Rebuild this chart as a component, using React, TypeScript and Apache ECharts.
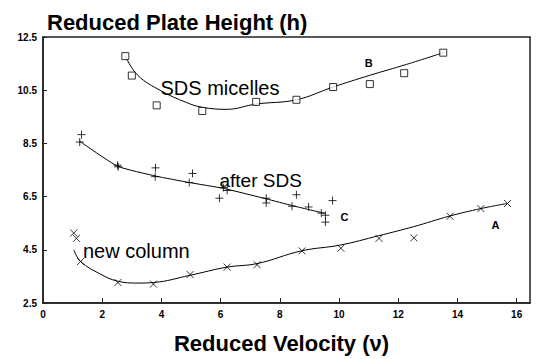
import React, { useEffect, useRef } from "react";
import * as echarts from "echarts";

const xTicks = [0, 2, 4, 6, 8, 10, 12, 14, 16];
const yTicks = [2.5, 4.5, 6.5, 8.5, 10.5, 12.5];

// B: SDS micelles (squares)
const sdsMicellesPts = [
  [2.78, 11.78], [3.0, 11.05], [3.84, 9.93], [5.38, 9.72], [7.2, 10.06],
  [8.56, 10.14], [9.8, 10.62], [11.04, 10.73], [12.2, 11.14], [13.52, 11.91],
];
const sdsMicellesFit = [
  [2.78, 11.78], [3.2, 11.06], [4.0, 10.47], [4.84, 10.04], [5.36, 9.86],
  [6.2, 9.78], [7.2, 9.98], [8.56, 10.14], [9.8, 10.62], [11.04, 11.06],
  [12.28, 11.47], [13.52, 11.91],
];

// C: after SDS (plus)
const afterSdsPts = [
  [1.3, 8.83], [1.24, 8.55], [2.52, 7.68], [2.54, 7.62], [3.8, 7.58],
  [3.79, 7.25], [5.05, 7.37], [4.94, 7.03], [6.09, 6.84], [6.22, 6.73],
  [5.96, 6.44], [7.54, 6.44], [7.54, 6.26], [8.56, 6.57], [8.41, 6.14],
  [8.97, 6.11], [9.78, 6.35], [9.4, 5.88], [9.54, 5.8], [9.54, 5.54],
];
const afterSdsFit = [
  [1.24, 8.58], [2.52, 7.64], [3.81, 7.27], [4.94, 7.03], [6.09, 6.81],
  [7.56, 6.41], [8.42, 6.16], [9.52, 5.87],
];

// A: new column (x)
const newColumnPts = [
  [1.04, 5.13], [1.13, 4.93], [1.27, 4.06], [2.53, 3.27], [3.73, 3.21],
  [4.97, 3.57], [6.22, 3.85], [7.23, 3.94], [8.75, 4.46], [10.06, 4.56],
  [11.35, 4.93], [12.53, 4.95], [13.75, 5.76], [14.79, 6.05], [15.69, 6.24],
];
const newColumnFit = [
  [1.04, 4.5], [1.27, 4.06], [1.95, 3.58], [2.52, 3.32], [3.2, 3.25],
  [3.74, 3.27], [4.96, 3.54], [6.22, 3.85], [7.23, 3.98], [8.73, 4.46],
  [10.05, 4.68], [11.34, 5.03], [12.52, 5.37], [13.74, 5.77], [14.79, 6.05],
  [15.67, 6.24],
];

const annotations = [
  { text: "SDS micelles", at: [3.97, 10.57], size: 20, bold: false },
  { text: "after SDS", at: [5.96, 7.12], size: 19, bold: false },
  { text: "new column", at: [1.35, 4.44], size: 20, bold: false },
  { text: "B", at: [11.0, 11.53], size: 11, bold: true },
  { text: "C", at: [10.18, 5.75], size: 11, bold: true },
  { text: "A", at: [15.28, 5.45], size: 11, bold: true },
];

const FONT = "'Liberation Sans', Arial, Helvetica, sans-serif";
const PLUS = "path://M5,0L5,10M0,5L10,5";
const CROSS = "path://M0,0L10,10M0,10L10,0";

export default function App() {
  const ref = useRef<HTMLDivElement>(null);
  useEffect(() => {
    if (!ref.current) return;
    const chart = echarts.init(ref.current, undefined, { renderer: "svg" });
    const lineStyle = { color: "#000", width: 1 };
    const option: any = {
      animation: false,
      backgroundColor: "#fff",
      title: {
        text: "Reduced Plate Height (h)",
        left: 42,
        top: 6,
        textStyle: { fontFamily: FONT, fontSize: 22, fontWeight: "bold", color: "#000" },
      },
      grid: {
        left: 43,
        right: 9,
        top: 37,
        bottom: 51,
        show: true,
        borderColor: "#222",
        borderWidth: 1.5,
      },
      xAxis: {
        type: "value",
        min: 0,
        max: 16.45,
        name: "Reduced Velocity (ν)",
        nameLocation: "middle",
        nameGap: 29,
        nameTextStyle: {
          fontFamily: FONT,
          fontSize: 22,
          fontWeight: "bold",
          color: "#000",
          padding: [0, 10, 0, 0],
        },
        splitLine: { show: false },
        axisLine: { lineStyle: { color: "#222", width: 1.5 } },
        axisTick: { inside: true, length: 5, customValues: xTicks, lineStyle: { color: "#222" } },
        axisLabel: {
          customValues: xTicks,
          margin: 6,
          fontFamily: FONT,
          fontSize: 10,
          fontWeight: "bold",
          color: "#000",
        },
      },
      yAxis: {
        type: "value",
        min: 2.5,
        max: 12.5,
        splitLine: { show: false },
        axisLine: { lineStyle: { color: "#222", width: 1.5 } },
        axisTick: { inside: true, length: 4, customValues: yTicks, lineStyle: { color: "#222" } },
        axisLabel: {
          customValues: yTicks,
          margin: 6,
          fontFamily: FONT,
          fontSize: 10,
          fontWeight: "bold",
          color: "#000",
          formatter: (v: number) => v.toFixed(1),
        },
      },
      series: [
        { type: "line", data: sdsMicellesFit, smooth: 0.4, showSymbol: false, lineStyle, z: 2 },
        { type: "line", data: afterSdsFit, smooth: 0.15, showSymbol: false, lineStyle, z: 2 },
        { type: "line", data: newColumnFit, smooth: 0.4, showSymbol: false, lineStyle, z: 2 },
        {
          type: "scatter",
          data: sdsMicellesPts,
          symbol: "rect",
          symbolSize: 7,
          itemStyle: { color: "#fff", borderColor: "#000", borderWidth: 1 },
          z: 3,
        },
        {
          type: "scatter",
          data: afterSdsPts,
          symbol: PLUS,
          symbolSize: 8,
          itemStyle: { color: "none", borderColor: "#000", borderWidth: 1 },
          z: 3,
        },
        {
          type: "scatter",
          data: newColumnPts,
          symbol: CROSS,
          symbolSize: 7,
          itemStyle: { color: "none", borderColor: "#000", borderWidth: 1 },
          z: 3,
        },
      ],
    };
    chart.setOption(option);
    const graphics = annotations.map((a) => {
      const p = chart.convertToPixel({ gridIndex: 0 }, a.at) as number[];
      return {
        type: "text",
        x: p[0],
        y: p[1],
        z: 10,
        style: {
          text: a.text,
          fontFamily: FONT,
          fontSize: a.size,
          fontWeight: a.bold ? "bold" : "normal",
          fill: "#000",
          align: a.bold ? "center" : "left",
          verticalAlign: "middle",
        },
      };
    });
    chart.setOption({ graphic: graphics });
    return () => chart.dispose();
  }, []);
  return (
    <div
      ref={ref}
      style={{ position: "absolute", left: 0, top: 0, width: 539, height: 359 }}
    />
  );
}
